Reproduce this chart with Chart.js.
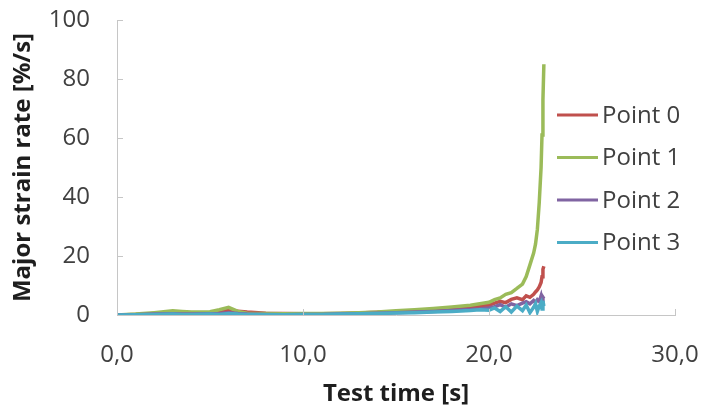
<!DOCTYPE html>
<html>
<head>
<meta charset="utf-8">
<script src="https://cdn.jsdelivr.net/npm/chart.js@4"></script>
<style>
  html, body { margin: 0; padding: 0; background: #fff; }
  #wrap { width: 703px; height: 409px; position: relative; }
</style>
</head>
<body>
<div id="wrap"><canvas id="chart"></canvas></div>
<script>
// test time [s]
const times = [0, 1, 2, 3, 3.5, 4, 5, 5.5, 6, 6.5, 7, 8, 9, 10, 11, 12, 13, 14, 15, 16,
    17, 18, 19, 19.5, 20, 20.3, 20.6, 20.9, 21.2, 21.5, 21.8, 22.0, 22.2, 22.4, 22.5,
    22.6, 22.7, 22.8, 22.85, 22.9, 22.95];

// major strain rate [%/s]
const point0 = [0, 0.2, 0.5, 0.8, 0.7, 0.6, 0.8, 1.2, 1.6, 1.3, 1.0, 0.6, 0.5, 0.4, 0.4, 0.5,
    0.7, 0.9, 1.1, 1.4, 1.7, 2.0, 2.6, 2.9, 3.3, 4.0, 4.6, 4.2, 5.3, 5.8, 5.2, 6.5, 6.0, 7.0,
    7.8, 8.5, 9.5, 11, 13, 15.5, 16.5];
const point1 = [0, 0.3, 0.8, 1.4, 1.2, 1.0, 1.1, 1.8, 2.6, 1.2, 0.6, 0.5, 0.4, 0.5, 0.5, 0.6,
    0.8, 1.0, 1.4, 1.8, 2.2, 2.7, 3.3, 3.8, 4.3, 5.2, 5.8, 7.0, 7.6, 9.0, 10.5, 13, 17, 21,
    24, 29, 38, 50, 61, 73, 85];
const point2 = [0, 0.1, 0.3, 0.4, 0.3, 0.3, 0.4, 0.5, 0.8, 0.5, 0.3, 0.2, 0.1, 0.2, 0.2, 0.3,
    0.4, 0.6, 0.8, 1.0, 1.2, 1.5, 1.9, 2.0, 2.4, 2.8, 3.5, 2.6, 3.8, 3.2, 4.0, 4.5, 3.8, 4.9,
    4.2, 5.2, 4.6, 6.5, 5.0, 6.0, 5.5];
const point3 = [0, 0.1, 0.2, 0.3, 0.2, 0.2, 0.3, 0.2, 0.5, 0.3, 0.2, 0.1, 0.1, 0.2, 0.2, 0.3,
    0.4, 0.5, 0.7, 0.8, 1.0, 1.2, 1.5, 1.8, 1.6, 2.4, 1.2, 2.8, 1.0, 3.0, 1.5, 3.4, 0.8, 2.6,
    3.8, 1.2, 3.0, 4.2, 2.0, 4.8, 3.0];

const seriesNames = ['Point 0', 'Point 1', 'Point 2', 'Point 3'];
const seriesColors = ['#C0504D', '#9BBB59', '#8064A2', '#4BACC6'];
const xTickLabels = ['0,0', '10,0', '20,0', '30,0'];
const yTickLabels = ['0', '20', '40', '60', '80', '100'];

const axisColor = '#c6c6c6';
const textColor = '#404040';
const fontFamily = '"Open Sans", "DejaVu Sans", sans-serif';

function toXY(values) {
    return values.map((v, i) => ({ x: times[i], y: v }));
}

// small tick marks pointing into the plot, like the original
const innerTicksPlugin = {
    id: 'innerTicks',
    afterDatasetsDraw(chart) {
        const { ctx, chartArea, scales: { x, y } } = chart;
        ctx.save();
        ctx.strokeStyle = axisColor;
        ctx.lineWidth = 1;
        ctx.beginPath();
        y.ticks.forEach(t => {
            const py = Math.round(y.getPixelForValue(t.value)) + 0.5;
            ctx.moveTo(chartArea.left, py);
            ctx.lineTo(chartArea.left + 6, py);
        });
        x.ticks.forEach(t => {
            const px = Math.round(x.getPixelForValue(t.value)) + 0.5;
            ctx.moveTo(px, chartArea.bottom);
            ctx.lineTo(px, chartArea.bottom - 6);
        });
        ctx.stroke();
        ctx.restore();
    }
};

// legend sits over the right side of the plot
const overlayLegendPlugin = {
    id: 'overlayLegend',
    afterDraw(chart) {
        const { ctx } = chart;
        const left = 557, lineLen = 41, top = 115, rowGap = 42.5;
        ctx.save();
        ctx.font = '24px ' + fontFamily;
        ctx.textBaseline = 'middle';
        ctx.textAlign = 'left';
        seriesNames.forEach((name, i) => {
            const yy = top + i * rowGap;
            ctx.strokeStyle = seriesColors[i];
            ctx.lineWidth = 3;
            ctx.beginPath();
            ctx.moveTo(left, yy);
            ctx.lineTo(left + lineLen, yy);
            ctx.stroke();
            ctx.fillStyle = textColor;
            ctx.fillText(name, left + lineLen + 4, yy + 1);
        });
        ctx.restore();
    }
};

const datasets = [point0, point1, point2, point3].map((vals, i) => ({
    label: seriesNames[i],
    data: toXY(vals),
    borderColor: seriesColors[i],
    backgroundColor: seriesColors[i],
    borderWidth: 3.5,
    pointRadius: 0,
    tension: 0,
    order: 4 - i
}));

new Chart(document.getElementById('chart'), {
    type: 'line',
    data: { datasets: datasets },
    options: {
        responsive: true,
        maintainAspectRatio: false,
        animation: false,
        layout: { padding: { top: 20, right: 28, left: 0, bottom: 0 } },
        plugins: {
            legend: { display: false },
            tooltip: { enabled: false }
        },
        scales: {
            x: {
                type: 'linear',
                min: 0,
                max: 30,
                afterFit: s => {
                    s.height = 94;
                    s.paddingLeft = 0;
                    s.paddingRight = 0;
                },
                grid: { display: true, drawOnChartArea: false, drawTicks: false },
                border: { display: true, color: axisColor, width: 1 },
                ticks: {
                    stepSize: 10,
                    padding: 26,
                    color: textColor,
                    font: { family: fontFamily, size: 24 },
                    maxRotation: 0,
                    callback: v => xTickLabels[v / 10]
                },
                title: {
                    display: true,
                    text: 'Test time [s]',
                    color: '#1e1e1e',
                    font: { family: fontFamily, size: 24, weight: 'bold' },
                    padding: { top: 0, bottom: 0 }
                }
            },
            y: {
                min: 0,
                max: 100,
                afterFit: s => {
                    s.width = 117;
                    s.paddingTop = 0;
                    s.paddingBottom = 0;
                },
                grid: { display: true, drawOnChartArea: false, drawTicks: false },
                border: { display: true, color: axisColor, width: 1 },
                ticks: {
                    stepSize: 20,
                    padding: 27,
                    color: textColor,
                    font: { family: fontFamily, size: 24 },
                    callback: v => yTickLabels[v / 20]
                },
                title: {
                    display: true,
                    text: 'Major strain rate [%/s]',
                    color: '#1e1e1e',
                    font: { family: fontFamily, size: 24, weight: 'bold' },
                    padding: { top: 9, bottom: 9 }
                }
            }
        }
    },
    plugins: [innerTicksPlugin, overlayLegendPlugin]
});
</script>
</body>
</html>
